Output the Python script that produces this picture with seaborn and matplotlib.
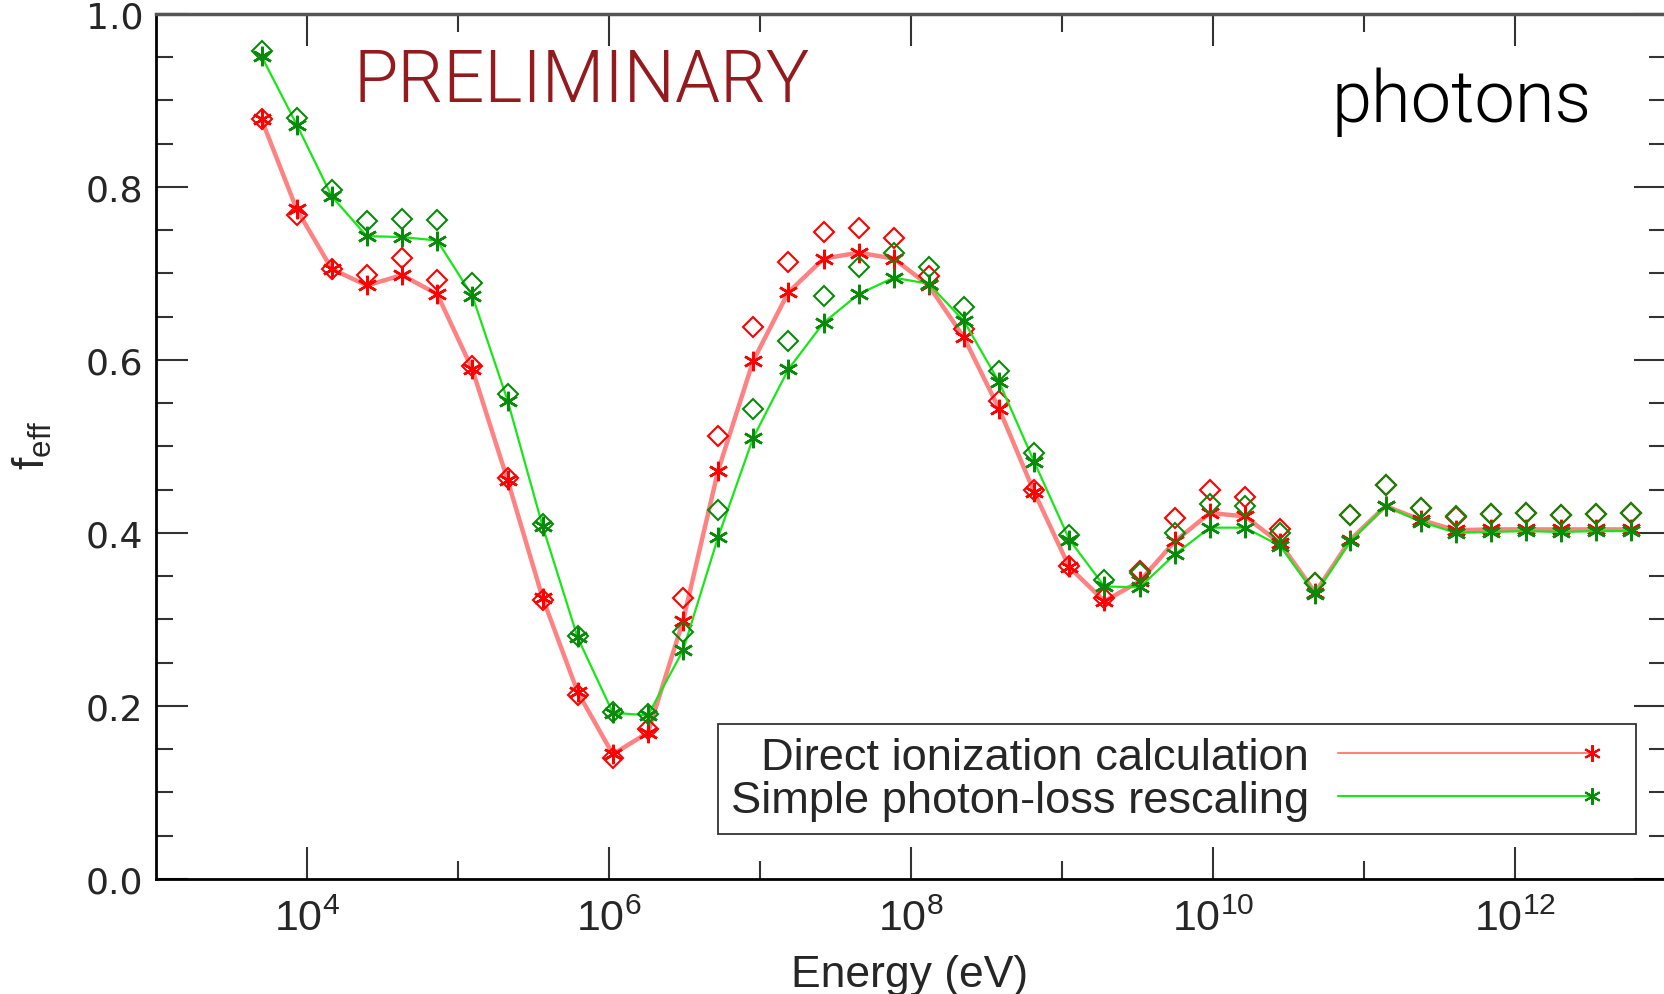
import matplotlib
matplotlib.use('Agg')
import matplotlib.pyplot as plt
import numpy as np
import seaborn as sns
from matplotlib.lines import Line2D
from matplotlib.legend_handler import HandlerLine2D
from matplotlib.ticker import FixedLocator, MultipleLocator, NullFormatter

# photon injection energies (eV), log spaced
energy = [5.00e3, 8.55e3, 1.46e4, 2.49e4, 4.26e4, 7.28e4, 1.245e5, 2.13e5,
          3.63e5, 6.20e5, 1.06e6, 1.81e6, 3.09e6, 5.28e6, 9.02e6, 1.54e7,
          2.64e7, 4.50e7, 7.69e7, 1.31e8, 2.24e8, 3.84e8, 6.55e8, 1.12e9,
          1.91e9, 3.27e9, 5.58e9, 9.53e9, 1.63e10, 2.78e10, 4.75e10, 8.12e10,
          1.39e11, 2.37e11, 4.05e11, 6.92e11, 1.18e12, 2.02e12, 3.45e12, 5.89e12]

# f_eff, direct ionization calculation (asterisks + line)
direct_star = [0.878, 0.774, 0.705, 0.686, 0.698, 0.676, 0.589, 0.461,
               0.325, 0.216, 0.144, 0.169, 0.298, 0.472, 0.599, 0.678,
               0.717, 0.724, 0.717, 0.686, 0.626, 0.543, 0.447, 0.360,
               0.321, 0.344, 0.390, 0.423, 0.419, 0.388, 0.331, 0.392,
               0.431, 0.415, 0.403, 0.404, 0.404, 0.404, 0.404, 0.404]
# f_eff, direct ionization calculation (open diamonds)
direct_diamond = [0.878, 0.768, 0.705, 0.698, 0.718, 0.692, 0.593, 0.463,
                  0.322, 0.212, 0.140, 0.173, 0.325, 0.512, 0.638, 0.713,
                  0.748, 0.752, 0.741, 0.697, 0.636, 0.553, 0.450, 0.362,
                  0.325, 0.356, 0.417, 0.450, 0.442, 0.404, 0.342, 0.421,
                  0.455, 0.429, 0.418, 0.422, 0.423, 0.421, 0.422, 0.423]
# f_eff, simple photon-loss rescaling (asterisks + line)
rescaled_star = [0.951, 0.872, 0.789, 0.743, 0.742, 0.738, 0.674, 0.553,
                 0.408, 0.279, 0.192, 0.189, 0.264, 0.395, 0.510, 0.589,
                 0.643, 0.676, 0.695, 0.688, 0.645, 0.574, 0.482, 0.392,
                 0.338, 0.337, 0.375, 0.406, 0.406, 0.385, 0.329, 0.390,
                 0.431, 0.413, 0.400, 0.401, 0.402, 0.401, 0.402, 0.402]
# f_eff, simple photon-loss rescaling (open diamonds)
rescaled_diamond = [0.957, 0.880, 0.796, 0.761, 0.763, 0.762, 0.689, 0.560,
                    0.410, 0.281, 0.193, 0.190, 0.285, 0.426, 0.543, 0.622,
                    0.674, 0.707, 0.724, 0.707, 0.661, 0.587, 0.492, 0.398,
                    0.346, 0.354, 0.400, 0.433, 0.431, 0.400, 0.342, 0.421,
                    0.455, 0.429, 0.419, 0.422, 0.423, 0.421, 0.422, 0.423]

xticks = [1e4, 1e6, 1e8, 1e10, 1e12]
xtick_labels = [r'$\mathrm{10^{4}}$', r'$\mathrm{10^{6}}$', r'$\mathrm{10^{8}}$',
                r'$\mathrm{10^{10}}$', r'$\mathrm{10^{12}}$']
xminor = [1e5, 1e7, 1e9, 1e11]
yticks = [0.0, 0.2, 0.4, 0.6, 0.8, 1.0]
ytick_labels = ['0.0', '0.2', '0.4', '0.6', '0.8', '1.0']
legend_labels = ['Direct ionization calculation', 'Simple photon-loss rescaling']

sns.set_style('ticks')
plt.rcParams['font.family'] = ['Liberation Sans', 'DejaVu Sans']
plt.rcParams['mathtext.fontset'] = 'custom'
plt.rcParams['mathtext.rm'] = 'Liberation Sans'
plt.rcParams['mathtext.it'] = 'Liberation Sans:italic'
plt.rcParams['mathtext.bf'] = 'Liberation Sans:bold'

STAR = (6, 2, 0)
RED, RED_LINE = '#ff0000', '#ff8282'
GREEN, GREEN_LINE = '#0a8a0a', '#19e619'


class EndMarkerHandler(HandlerLine2D):
    """legend line with a single marker at its right end, a bit inset"""
    def __init__(self, inset=0.7, **kw):
        super().__init__(**kw)
        self.inset = inset

    def create_artists(self, legend, orig_handle, xdescent, ydescent,
                       width, height, fontsize, trans):
        arts = super().create_artists(legend, orig_handle, xdescent, ydescent,
                                      width, height, fontsize, trans)
        for a in arts:
            x = np.asarray(a.get_xdata(), dtype=float).copy()
            x[-1] -= self.inset * fontsize
            a.set_xdata(x)
            a.set_markevery([len(x) - 1])
        return arts


fig = plt.figure(figsize=(16.64, 9.95), dpi=100)
ax = fig.add_axes([156 / 1664, 1 - 879.8 / 995, 1510 / 1664, 864.9 / 995])

sns.lineplot(x=energy, y=direct_star, ax=ax, color=RED_LINE, lw=3.2,
             marker=STAR, ms=14, mec=RED, mew=1.8, legend=False, zorder=3)
sns.lineplot(x=energy, y=direct_diamond, ax=ax, linestyle='none', marker='D',
             ms=10, mfc='none', mec=RED, mew=1.5, legend=False, zorder=4)
sns.lineplot(x=energy, y=rescaled_star, ax=ax, color=GREEN_LINE, lw=1.6,
             marker=STAR, ms=14, mec=GREEN, mew=1.8, legend=False, zorder=5)
sns.lineplot(x=energy, y=rescaled_diamond, ax=ax, linestyle='none', marker='D',
             ms=10, mfc='none', mec=GREEN, mew=1.5, legend=False, zorder=6)

ax.set_xscale('log')
ax.set_xlim(1e3, 1e13)
ax.set_ylim(0, 1.0)
ax.xaxis.set_major_locator(FixedLocator(xticks))
ax.xaxis.set_minor_locator(FixedLocator(xminor))
ax.xaxis.set_minor_formatter(NullFormatter())
ax.set_xticklabels(xtick_labels, fontsize=31)
ax.set_yticks(yticks, ytick_labels, fontsize=26, fontfamily='DejaVu Sans')
ax.yaxis.set_minor_locator(MultipleLocator(0.05))
ax.tick_params(which='both', direction='in', top=True, right=True,
               width=1.5, color='#333333')
ax.tick_params(axis='x', which='major', length=23, pad=14)
ax.tick_params(axis='x', which='minor', length=13)
ax.tick_params(axis='y', which='major', length=23, pad=9)
ax.tick_params(axis='y', which='minor', length=12)
ax.set_xlabel('')
ax.set_ylabel('')

for side in ['left', 'bottom']:
    ax.spines[side].set_color('black')
    ax.spines[side].set_linewidth(2)
ax.spines['top'].set_color('#555555')
ax.spines['top'].set_linewidth(2.5)
ax.spines['right'].set_visible(False)

handles = [
    Line2D([], [], color=RED_LINE, lw=1.5, marker=STAR, ms=12, mec=RED, mew=1.5),
    Line2D([], [], color=GREEN_LINE, lw=1.5, marker=STAR, ms=12, mec=GREEN, mew=1.5),
]
leg = ax.legend(handles, legend_labels, loc='lower right',
                bbox_to_anchor=(1636 / 1664, 1 - 835 / 995),
                bbox_transform=fig.transFigure, borderaxespad=0,
                markerfirst=False, fancybox=False, framealpha=1,
                edgecolor='#333333', prop={'family': 'Liberation Sans', 'size': 32.6},
                handlelength=6.3, handletextpad=0.65, borderpad=0.28,
                labelspacing=0.06,
                handler_map={Line2D: EndMarkerHandler(inset=0.7, numpoints=1)})
leg.get_frame().set_linewidth(1.3)

fig.text(354 / 1664, 1 - 101.7 / 995, 'PRELIMINARY', color='#951a1d',
         fontsize=52, fontfamily='Roboto', fontweight=300,
         ha='left', va='baseline')
fig.text(1592 / 1664, 1 - 121.7 / 995, 'photons', color='black',
         fontsize=52, fontfamily='Roboto', fontweight=300,
         ha='right', va='baseline')
fig.text(910 / 1664, 1 - 986.7 / 995, 'Energy (eV)', fontsize=32,
         ha='center', va='baseline')
fig.text(32 / 1664, 1 - 445 / 995, r'f$_{\mathrm{eff}}$', fontsize=32,
         rotation=90, ha='center', va='center')

fig.savefig('out.png', dpi=100)
